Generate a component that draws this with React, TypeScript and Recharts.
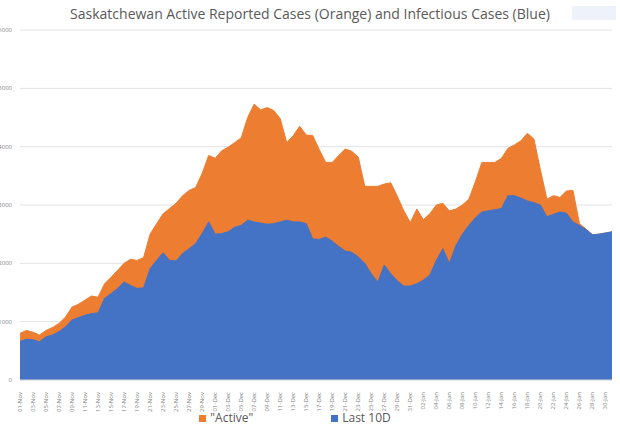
import React from "react";
import { AreaChart, Area, XAxis, YAxis, CartesianGrid, Legend } from "recharts";

const MONTHS: [string, number][] = [["Nov", 30], ["Dec", 31], ["Jan", 31]];
const dateLabels: string[] = [];
MONTHS.forEach(([m, n]) => {
  for (let d = 1; d <= n; d++) dateLabels.push(`${String(d).padStart(2, "0")}-${m}`);
});

const activeCases = [
  800, 850, 820, 770, 850, 900, 970, 1080, 1250, 1300,
  1370, 1440, 1420, 1650, 1760, 1880, 2000, 2070, 2050, 2100,
  2500, 2680, 2850, 2940, 3030, 3160, 3250, 3300, 3540, 3850,
  3800, 3930, 3990, 4070, 4150, 4500, 4730, 4630, 4670, 4620,
  4480, 4070, 4190, 4350, 4200, 4190, 3950, 3730, 3730, 3850,
  3960, 3920, 3820, 3320, 3320, 3320, 3360, 3380, 3150, 2900,
  2700, 2930, 2750, 2850, 3000, 3030, 2900, 2930, 3000, 3100,
  3400, 3730, 3730, 3730, 3800, 3970, 4030, 4100, 4230, 4130,
  3600, 3100, 3160, 3130, 3240, 3250, 2680, 2590, 2490, 2500,
  2520, 2540,
];

const last10D = [
  660, 700, 690, 655, 740, 770, 830, 910, 1030, 1070,
  1110, 1140, 1150, 1400, 1480, 1570, 1680, 1620, 1570, 1580,
  1910, 2050, 2180, 2050, 2040, 2170, 2250, 2340, 2510, 2710,
  2500, 2510, 2540, 2620, 2650, 2740, 2710, 2690, 2670, 2680,
  2710, 2740, 2710, 2710, 2680, 2420, 2410, 2450, 2380, 2290,
  2210, 2190, 2110, 2000, 1820, 1680, 1970, 1820, 1700, 1610,
  1610, 1650, 1710, 1800, 2050, 2250, 2000, 2300, 2500, 2650,
  2780, 2880, 2900, 2920, 2940, 3160, 3160, 3120, 3070, 3040,
  3000, 2800, 2840, 2880, 2860, 2710, 2650, 2580, 2490, 2500,
  2520, 2540,
];

const yTicks = [0, 1000, 2000, 3000, 4000, 5000, 6000];

const data = dateLabels.map((label, i) => ({
  label,
  active: activeCases[i],
  last10: last10D[i],
}));

const ORANGE = "#ED7D31";
const BLUE = "#4472C4";
const FONT = "'Open Sans', sans-serif";

const XTick = (props: any) => {
  const { x, y, payload } = props;
  return (
    <text
      x={x}
      y={y + 4}
      transform={`rotate(-90, ${x}, ${y + 4})`}
      textAnchor="end"
      dy="0.32em"
      fontSize={6}
      fill="#7f7f7f"
      fontFamily={FONT}
    >
      {payload.value}
    </text>
  );
};

const LegendContent = () => (
  <div
    style={{
      display: "flex",
      justifyContent: "center",
      gap: 78,
      fontFamily: FONT,
      fontSize: 12,
      color: "#595959",
      paddingRight: 22,
      lineHeight: "16px",
    }}
  >
    <span style={{ display: "flex", alignItems: "center" }}>
      <span style={{ width: 7, height: 7, background: ORANGE, marginRight: 4, display: "inline-block" }} />
      "Active"
    </span>
    <span style={{ display: "flex", alignItems: "center" }}>
      <span style={{ width: 7, height: 7, background: BLUE, marginRight: 4, display: "inline-block" }} />
      Last 10D
    </span>
  </div>
);

export default function App() {
  return (
    <div style={{ position: "absolute", left: 0, top: 0, width: 620, height: 430, background: "#fff" }}>
      <div
        style={{
          position: "absolute",
          left: 0,
          width: 620,
          top: 4,
          textAlign: "center",
          fontFamily: FONT,
          fontSize: 14,
          color: "#595959",
          whiteSpace: "nowrap",
        }}
      >
        Saskatchewan Active Reported Cases (Orange) and Infectious Cases (Blue)
      </div>
      <div
        style={{
          position: "absolute",
          left: 572,
          top: 6,
          width: 44,
          height: 14,
          background: "#eef3fb",
        }}
      />
      <AreaChart
        width={620}
        height={430}
        data={data}
        margin={{ top: 30, right: 8, left: 0, bottom: 2 }}
      >
        <CartesianGrid vertical={false} stroke="#e3e3e3" />
        <XAxis
          dataKey="label"
          interval={1}
          height={30}
          tick={<XTick />}
          tickLine={false}
          axisLine={{ stroke: "#d9d9d9" }}
        />
        <YAxis
          domain={[0, 6000]}
          ticks={yTicks}
          width={20}
          tickLine={false}
          axisLine={false}
          tickMargin={2}
          tick={{ fontSize: 6, fill: "#7f7f7f", fontFamily: FONT }}
        />
        <Legend verticalAlign="bottom" height={18} content={<LegendContent />} />
        <Area
          type="linear"
          dataKey="active"
          name={'"Active"'}
          fill={ORANGE}
          stroke={ORANGE}
          fillOpacity={1}
          isAnimationActive={false}
        />
        <Area
          type="linear"
          dataKey="last10"
          name="Last 10D"
          fill={BLUE}
          stroke={BLUE}
          fillOpacity={1}
          isAnimationActive={false}
        />
      </AreaChart>
    </div>
  );
}
